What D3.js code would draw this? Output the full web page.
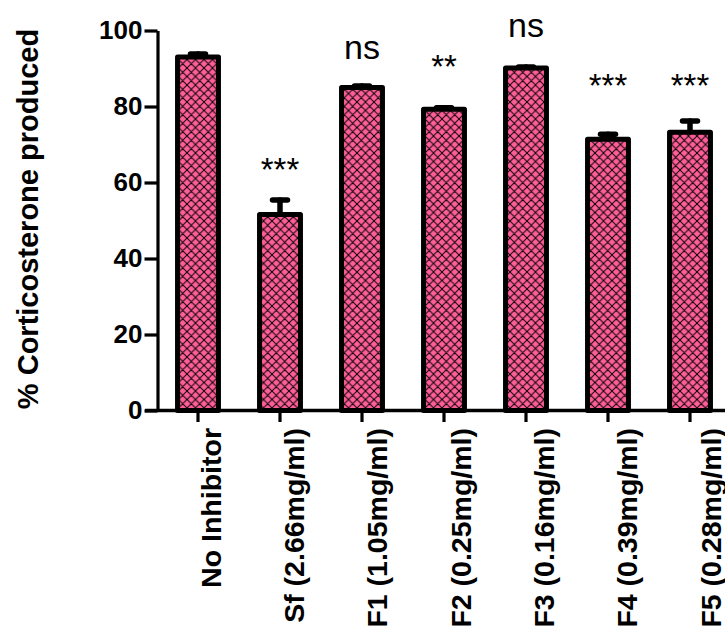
<!DOCTYPE html>
<html>
<head>
<meta charset="utf-8">
<script src="https://cdn.jsdelivr.net/npm/d3@7"></script>
<style>
  html, body { margin: 0; padding: 0; background: #fff; }
  svg { display: block; font-family: "Liberation Sans", Arial, Helvetica, sans-serif; }
</style>
</head>
<body>
<svg id="chart" width="725" height="630"></svg>
<script>
// Corticosterone production with each inhibitor (mean + SEM)
const categories = ["No Inhibitor", "Sf (2.66mg/ml)", "F1 (1.05mg/ml)", "F2 (0.25mg/ml)", "F3 (0.16mg/ml)", "F4 (0.39mg/ml)", "F5 (0.28mg/ml)"];
const means = [93, 51.6, 85, 79.3, 90.1, 71.4, 73.2];
const errors = [0.8, 3.8, 0.4, 0.4, 0.3, 1.3, 3.0];
// Significance vs. "No Inhibitor", and the value level each mark is written at
const significance = ["", "***", "ns", "**", "ns", "***", "***"];
const sigLevel = [null, 60.5, 92.6, 87.4, 98.2, 82.6, 82.6];
const yTicks = [0, 20, 40, 60, 80, 100];

const svg = d3.select("#chart");

const y = d3.scaleLinear().domain([0, 100]).range([410.5, 30.5]);
const x = d3.scaleBand().domain(categories)
  .range([157, 731]).paddingInner(0.44).paddingOuter(0.22);
// Rotated category labels run on a slightly wider pitch than the ticks
const xLabel = d3.scalePoint().domain(categories).range([200, 700]);

// Crosshatch fill for the bars
const cell = 8.5;
const defs = svg.append("defs");
const pat = defs.append("pattern")
  .attr("id", "hatch").attr("patternUnits", "userSpaceOnUse")
  .attr("width", cell).attr("height", cell);
pat.append("rect").attr("width", cell).attr("height", cell).attr("fill", "#ff5e98");
pat.append("path")
  .attr("d", `M0,0L${cell},${cell}M${cell},0L0,${cell}` +
             `M-1,${cell - 1}L1,${cell + 1}M${cell - 1},-1L${cell + 1},1` +
             `M-1,1L1,-1M${cell - 1},${cell + 1}L${cell + 1},${cell - 1}`)
  .attr("stroke", "#000").attr("stroke-width", 0.95);

// Error bars (upper whisker only), drawn beneath the bars
const eb = svg.append("g").attr("stroke", "#000").attr("stroke-width", 5.5).attr("stroke-linecap", "round");
categories.forEach((c, i) => {
  const cx = x(c) + x.bandwidth() / 2;
  const top = y(means[i] + errors[i]);
  eb.append("line").attr("x1", cx).attr("x2", cx)
    .attr("y1", y(means[i])).attr("y2", top);
  eb.append("line").attr("x1", cx - 7.5).attr("x2", cx + 7.5)
    .attr("y1", top).attr("y2", top);
});

// Bars
svg.append("g").selectAll("rect").data(categories).join("rect")
  .attr("x", d => x(d) + 2.5)
  .attr("width", x.bandwidth() - 5)
  .attr("y", (d, i) => y(means[i]))
  .attr("height", (d, i) => y(0) - y(means[i]))
  .attr("fill", "url(#hatch)")
  .attr("stroke", "#000").attr("stroke-width", 5)
  .attr("stroke-linejoin", "round");

// Significance labels
svg.append("g").selectAll("text").data(categories).join("text")
  .attr("x", d => x(d) + x.bandwidth() / 2)
  .attr("y", (d, i) => sigLevel[i] == null ? 0 : y(sigLevel[i]))
  .attr("text-anchor", "middle")
  .attr("font-size", (d, i) => significance[i] === "ns" ? 34 : 33)
  .attr("fill", "#000")
  .text((d, i) => significance[i]);

// Y axis
const yAxis = svg.append("g").attr("transform", "translate(157.5,0)")
  .call(d3.axisLeft(y).tickValues(yTicks).tickSize(13).tickSizeOuter(0).tickPadding(2));
yAxis.select(".domain").attr("stroke-width", 3.2);
yAxis.selectAll(".tick line").attr("stroke-width", 3.2);
yAxis.selectAll(".tick text").attr("font-size", 26).attr("font-weight", "bold")
  .attr("font-family", "Liberation Sans, Arial, sans-serif").attr("fill", "#000");

// X axis
const xAxis = svg.append("g").attr("transform", "translate(0,410)")
  .call(d3.axisBottom(x).tickSize(12).tickSizeOuter(0).tickFormat(""));
xAxis.select(".domain").attr("d", "M145,0.5H725").attr("stroke-width", 3.5);
xAxis.selectAll(".tick line").attr("stroke-width", 3.2);

// Category labels, rotated
svg.append("g").selectAll("text").data(categories).join("text")
  .attr("transform", d => `translate(${xLabel(d) + 20.5},428) rotate(-90)`)
  .attr("text-anchor", "end")
  .attr("font-size", 28.5).attr("font-weight", "bold")
  .attr("fill", "#000")
  .text(d => d);

// Y axis title
svg.append("text")
  .attr("transform", "translate(38,219) rotate(-90)")
  .attr("text-anchor", "middle")
  .attr("font-size", 29).attr("font-weight", "bold")
  .attr("fill", "#000")
  .text("% Corticosterone produced");
</script>
</body>
</html>
